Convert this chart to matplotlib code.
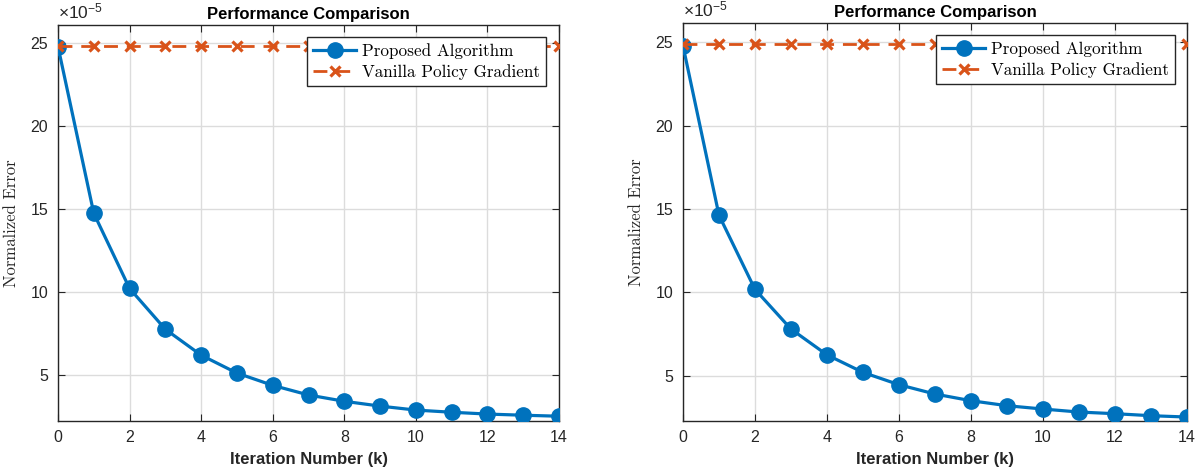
import numpy as np
import matplotlib
matplotlib.use("Agg")
import matplotlib.pyplot as plt
from matplotlib.ticker import FuncFormatter, MultipleLocator

plt.rcParams['font.family'] = ['Liberation Sans', 'DejaVu Sans']
plt.rcParams['mathtext.fontset'] = 'custom'
plt.rcParams['mathtext.rm'] = 'Liberation Sans'
plt.rcParams['mathtext.it'] = 'Liberation Sans:italic'
plt.rcParams['mathtext.bf'] = 'Liberation Sans:bold'

# data, errors in absolute units
iterations = list(range(15))
proposed_left = [24.8, 14.75, 10.22, 7.76, 6.2, 5.12, 4.38, 3.8, 3.42, 3.13, 2.89, 2.76, 2.65, 2.58, 2.52]
vanilla_left = [24.82] * 15
proposed_right = [24.8, 14.63, 10.18, 7.8, 6.25, 5.2, 4.46, 3.9, 3.5, 3.2, 3.0, 2.82, 2.72, 2.6, 2.52]
vanilla_right = [24.9] * 15

scale = 1e-5
blue = '#0072BD'
orange = '#D95319'
spine_col = '#262626'

fig = plt.figure(figsize=(12.03, 4.75), dpi=100)

panels = [
    ([58/1203, 1-420.7/475, 501/1203, 395.7/475], proposed_left, vanilla_left,
     (2.25, 26.1), (0.974, 0.970)),
    ([683/1203, 1-420.7/475, 504/1203, 397.7/475], proposed_right, vanilla_right,
     (2.3, 26.17), (0.976, 0.970)),
]

for rect, prop_vals, van_vals, ylim, leg_anchor in panels:
    ax = fig.add_axes(rect)
    p = np.array(prop_vals) * scale
    v = np.array(van_vals) * scale
    ax.plot(iterations, p, '-o', color=blue, lw=2.3, ms=11,
            label='Proposed Algorithm', zorder=3)
    ax.plot(iterations, v, '--x', color=orange, lw=2.0, ms=7, mew=2.3,
            dashes=(5, 3.2), label='Vanilla Policy Gradient', zorder=4)

    ax.set_xlim(0, 14)
    ax.set_ylim(ylim[0] * scale, ylim[1] * scale)
    ax.xaxis.set_major_locator(MultipleLocator(2))
    ax.yaxis.set_major_locator(MultipleLocator(5 * scale))
    ax.yaxis.set_major_formatter(FuncFormatter(lambda y, pos: '%g' % round(y / scale, 6)))
    ax.text(0.0, 1.01, r'$\times10^{-5}$', transform=ax.transAxes,
            fontsize=12.5, color=spine_col, ha='left', va='bottom')

    ax.grid(True, color='#dcdcdc', lw=1.0)
    ax.set_axisbelow(True)
    ax.tick_params(direction='in', top=True, right=True, length=5,
                   labelsize=11.5, colors=spine_col, pad=7)
    for s in ax.spines.values():
        s.set_color(spine_col)
        s.set_linewidth(1.0)

    ax.set_title('Performance Comparison', fontsize=12, fontweight='bold',
                 pad=4, color='black')
    ax.set_xlabel('Iteration Number (k)', fontsize=12, fontweight='bold',
                  labelpad=5, color=spine_col)
    ax.set_ylabel('Normalized Error', fontsize=12, family='cmr10',
                  labelpad=8, color=spine_col)

    leg = ax.legend(loc='upper right', bbox_to_anchor=leg_anchor,
                    borderaxespad=0, prop={'family': 'cmr10', 'size': 12.3},
                    fancybox=False, edgecolor=spine_col, framealpha=1,
                    handlelength=2.5, handletextpad=0.35, borderpad=0.35,
                    labelspacing=0.3)
    leg.get_frame().set_linewidth(1.0)

fig.savefig('out.png', dpi=100)
